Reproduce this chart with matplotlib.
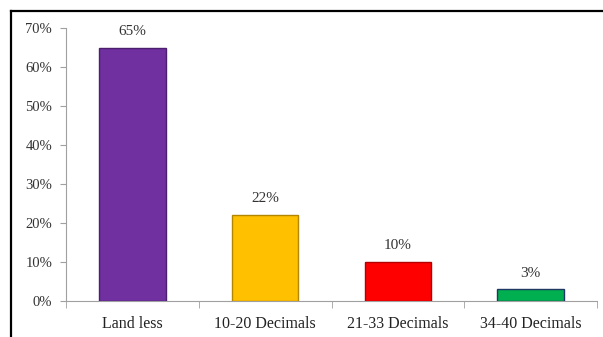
import matplotlib
matplotlib.use("Agg")
import matplotlib.pyplot as plt
from matplotlib.lines import Line2D

categories = ["Land less", "10-20 Decimals", "21-33 Decimals", "34-40 Decimals"]
values = [65, 22, 10, 3]
colors = ["#7030A0", "#FFC000", "#FF0000", "#00B050"]
edges = ["#4B1F6E", "#B38600", "#B30000", "#1F3864"]
yticks = [0, 10, 20, 30, 40, 50, 60, 70]

plt.rcParams["font.family"] = ["Liberation Serif", "DejaVu Serif"]

fig = plt.figure(figsize=(6.03, 3.37), dpi=100)
ax = fig.add_axes([66 / 603, 36 / 337, 531 / 603, 273 / 337])

x = range(len(categories))
ax.bar(x, values, width=0.5, color=colors, edgecolor=edges, linewidth=1.0, zorder=3)
for xi, v in zip(x, values):
    ax.annotate(f"{v}%", (xi, v), xytext=(0, 7), textcoords="offset points",
                ha="center", va="bottom", fontsize=11, color="#333333")

ax.set_xlim(-0.5, len(categories) - 0.5)
ax.set_ylim(0, 70)
ax.set_yticks(yticks)
ax.set_yticklabels([f"{t}%" for t in yticks], fontsize=10.5, color="#333333")
ax.set_xticks(list(x))
ax.set_xticklabels(categories, fontsize=11.5, color="#222222")
ax.set_xticks([i - 0.5 for i in range(len(categories) + 1)], minor=True)
ax.tick_params(axis="x", which="major", length=0, pad=11)
ax.tick_params(axis="x", which="minor", length=5, color="#A0A0A0", direction="out")
ax.tick_params(axis="y", length=4, color="#A0A0A0", pad=6)

for s in ["top", "right"]:
    ax.spines[s].set_visible(False)
for s in ["left", "bottom"]:
    ax.spines[s].set_color("#A0A0A0")
    ax.spines[s].set_linewidth(0.8)

# Frame lines along the top and left edges
fig.add_artist(Line2D([11 / 603, 1.0], [1 - 11 / 337, 1 - 11 / 337],
                      transform=fig.transFigure, color="black", linewidth=1.6))
fig.add_artist(Line2D([11 / 603, 11 / 603], [0.0, 1 - 11 / 337],
                      transform=fig.transFigure, color="black", linewidth=1.6))

fig.savefig("out.png", dpi=100)
